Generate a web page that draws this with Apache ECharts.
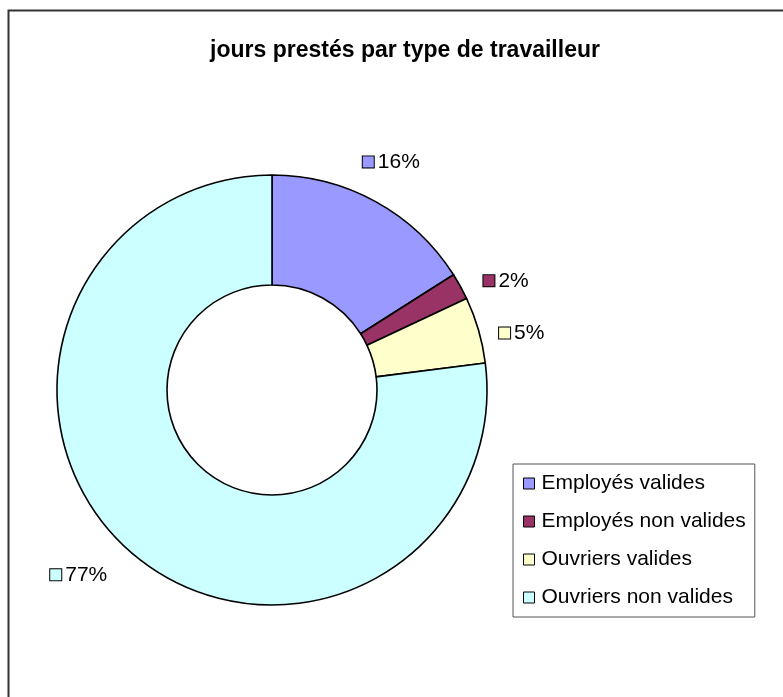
<!DOCTYPE html>
<html>
<head>
<meta charset="utf-8">
<script src="https://cdn.jsdelivr.net/npm/echarts@6/dist/echarts.min.js"></script>
<style>
  html, body { margin: 0; padding: 0; background: #fff; }
  #chart { width: 783px; height: 697px; }
</style>
</head>
<body>
<div id="chart"></div>
<script>
// Days worked, by type of worker (share in %)
const categories = ['Employés valides', 'Employés non valides', 'Ouvriers valides', 'Ouvriers non valides'];
const shares = [16, 2, 5, 77];
const colors = ['#9999FF', '#993366', '#FFFFCC', '#CCFFFF'];
const titleText = 'jours prestés par type de travailleur';

const FONT = '"Liberation Sans", Arial, sans-serif';

// one small swatch style per slice, used inside the data labels
const rich = { t: { fontSize: 21, fontFamily: FONT, color: '#000', padding: [0, 0, 0, 4] } };
colors.forEach((c, i) => {
  rich['s' + i] = { width: 11, height: 11, backgroundColor: c, borderColor: '#000', borderWidth: 1 };
});

// small nudges so each label sits where the spreadsheet's best-fit placement puts it
const labelNudge = [[-5, -2], [8, 15], [2, 15], [-18, -14]];

const data = categories.map((name, i) => ({
  name,
  value: shares[i],
  itemStyle: { color: colors[i] },
  labelLine: { length: i === 3 ? 50 : 43 }
}));

const chart = echarts.init(document.getElementById('chart'), null, { renderer: 'canvas' });
chart.setOption({
  backgroundColor: '#fff',
  animation: false,
  graphic: [{
    type: 'rect',
    shape: { x: 8.5, y: 10.5, width: 800, height: 800 },
    style: { fill: 'none', stroke: '#333', lineWidth: 2 },
    silent: true,
    z: -1
  }],
  title: {
    text: titleText,
    left: 400,
    top: 34,
    textAlign: 'center',
    textStyle: { fontFamily: FONT, fontWeight: 'bold', fontSize: 23, color: '#000' }
  },
  legend: {
    orient: 'vertical',
    left: 513,
    top: 464,
    padding: [9, 9, 9, 10],
    itemGap: 17,
    itemWidth: 11,
    itemHeight: 11,
    icon: 'rect',
    borderColor: '#555',
    borderWidth: 1,
    backgroundColor: '#fff',
    itemStyle: { borderColor: '#000', borderWidth: 1 },
    textStyle: { fontFamily: FONT, fontSize: 21, color: '#000', padding: [0, 0, 0, 2] },
    data: categories
  },
  series: [{
    type: 'pie',
    center: [272, 390],
    radius: [105, 215],
    startAngle: 90,
    clockwise: true,
    avoidLabelOverlap: false,
    itemStyle: { borderColor: '#000', borderWidth: 1.6 },
    emphasis: { disabled: true },
    label: {
      show: true,
      position: 'outside',
      distanceToLabelLine: 0,
      formatter: (p) => `{s${p.dataIndex}|}{t|${p.value}%}`,
      rich
    },
    labelLine: { show: false, length: 43, length2: 0 },
    labelLayout: (params) => ({
      align: 'center',
      verticalAlign: 'middle',
      dx: labelNudge[params.dataIndex][0],
      dy: labelNudge[params.dataIndex][1]
    }),
    data
  }]
});
</script>
</body>
</html>
